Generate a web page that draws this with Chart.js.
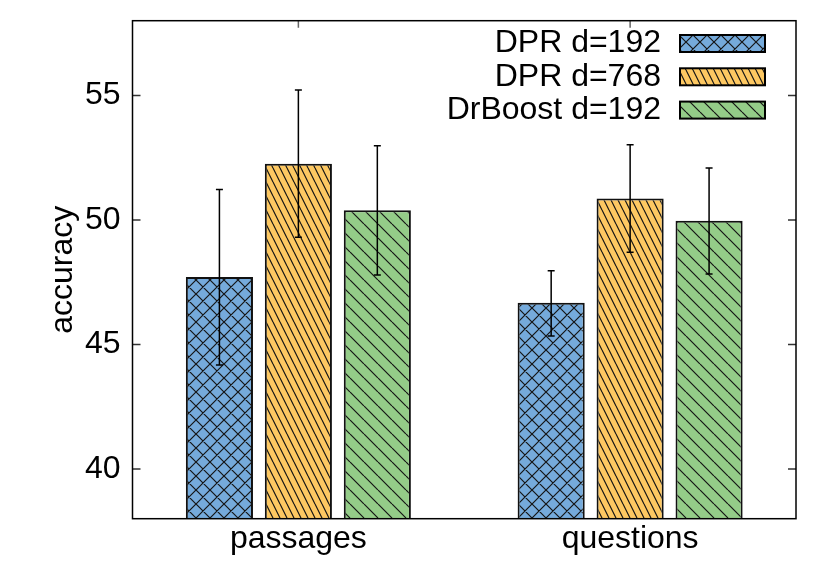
<!DOCTYPE html>
<html>
<head>
<meta charset="utf-8">
<script src="https://cdn.jsdelivr.net/npm/chart.js@4.4.1/dist/chart.umd.min.js"></script>
<style>
  html, body { margin: 0; padding: 0; background: #fff; }
  #wrap { width: 830px; height: 581px; }
</style>
</head>
<body>
<div id="wrap"><canvas id="c"></canvas></div>
<script>
const categories = ["passages", "questions"];
const seriesNames = ["DPR d=192", "DPR d=768", "DrBoost d=192"];
const dpr192 = [47.71, 46.67];
const dpr768 = [52.26, 50.86];
const drboost192 = [50.39, 49.97];
const dpr192Low = [44.17, 45.34];
const dpr192High = [51.22, 47.96];
const dpr768Low = [49.30, 48.70];
const dpr768High = [55.22, 53.02];
const drboost192Low = [47.79, 47.83];
const drboost192High = [52.98, 52.08];
const yTicks = [40, 45, 50, 55];

const FONT = "'Liberation Sans', Arial, sans-serif";
const FSIZE = 32;

// small tiles for the gnuplot-like fill patterns
function hatch(color, kind) {
  const w = kind === "steep" ? 7 : 14, h = 14;
  const c = document.createElement("canvas");
  c.width = w; c.height = h;
  const g = c.getContext("2d");
  g.fillStyle = color; g.fillRect(0, 0, w, h);
  g.strokeStyle = "#151515"; g.lineWidth = 1.2;
  g.beginPath();
  for (const dx of [-w, 0, w]) { g.moveTo(dx, 0); g.lineTo(dx + w, h); }
  if (kind === "cross") for (const dx of [-w, 0, w]) { g.moveTo(dx + w, 0); g.lineTo(dx, h); }
  g.stroke();
  return g.createPattern(c, "repeat");
}

const errorBars = {
  id: "errorBars",
  afterDatasetsDraw(chart) {
    const { ctx } = chart, y = chart.scales.y;
    ctx.save();
    ctx.strokeStyle = "#000"; ctx.lineWidth = 1.5;
    chart.data.datasets.forEach((ds, i) => {
      chart.getDatasetMeta(i).data.forEach((bar, j) => {
        const top = y.getPixelForValue(ds.high[j]), bot = y.getPixelForValue(ds.low[j]);
        ctx.beginPath();
        ctx.moveTo(bar.x, top); ctx.lineTo(bar.x, bot);
        ctx.moveTo(bar.x - 3.5, top); ctx.lineTo(bar.x + 3.5, top);
        ctx.moveTo(bar.x - 3.5, bot); ctx.lineTo(bar.x + 3.5, bot);
        ctx.stroke();
      });
    });
    ctx.restore();
  }
};

const frame = {
  id: "frame",
  beforeDatasetsDraw(chart) {
    const { ctx, chartArea: a } = chart, x = chart.scales.x;
    ctx.save();
    ctx.strokeStyle = "#666"; ctx.lineWidth = 1.5;
    categories.forEach((_, i) => {
      const px = x.getPixelForValue(i);
      ctx.beginPath();
      ctx.moveTo(px, a.top); ctx.lineTo(px, a.top + 7);
      ctx.moveTo(px, a.bottom); ctx.lineTo(px, a.bottom - 7);
      ctx.stroke();
    });
    ctx.restore();
  },
  afterDatasetsDraw(chart) {
    const { ctx, chartArea: a } = chart, y = chart.scales.y;
    ctx.save();
    ctx.strokeStyle = "#333"; ctx.lineWidth = 1.5;
    yTicks.forEach(v => {
      const py = y.getPixelForValue(v);
      ctx.beginPath();
      ctx.moveTo(a.left, py); ctx.lineTo(a.left + 8, py);
      ctx.moveTo(a.right, py); ctx.lineTo(a.right - 8, py);
      ctx.stroke();
    });
    ctx.strokeStyle = "#000"; ctx.lineWidth = 1.5;
    ctx.strokeRect(a.left, a.top, a.right - a.left, a.bottom - a.top);
    ctx.restore();
  }
};

const hatchLegend = {
  id: "hatchLegend",
  afterDraw(chart) {
    const ctx = chart.ctx;
    ctx.save();
    ctx.font = FSIZE + "px " + FONT;
    ctx.textAlign = "right"; ctx.textBaseline = "middle";
    chart.data.datasets.forEach((ds, i) => {
      const cy = 43.5 + i * 33.3;
      ctx.fillStyle = "#000";
      ctx.fillText(ds.label, 661, cy);
      ctx.fillStyle = ds.backgroundColor;
      ctx.fillRect(680, cy - 8.5, 85, 17);
      ctx.strokeStyle = "#000"; ctx.lineWidth = 2;
      ctx.strokeRect(680, cy - 8.5, 85, 17);
    });
    ctx.restore();
  }
};

function noPad(s) {
  s.paddingTop = 0; s.paddingBottom = 0; s.paddingLeft = 0; s.paddingRight = 0;
}

const colors = ["#75aadb", "#fdc862", "#94cc88"];
const kinds = ["cross", "steep", "diag"];
const values = [dpr192, dpr768, drboost192];
const lows = [dpr192Low, dpr768Low, drboost192Low];
const highs = [dpr192High, dpr768High, drboost192High];

new Chart(document.getElementById("c"), {
  type: "bar",
  data: {
    labels: categories,
    datasets: seriesNames.map((name, i) => ({
      label: name,
      data: values[i],
      low: lows[i],
      high: highs[i],
      backgroundColor: hatch(colors[i], kinds[i]),
      borderColor: "#111",
      borderWidth: 2,
      categoryPercentage: 0.714,
      barPercentage: 0.85
    }))
  },
  options: {
    responsive: true,
    maintainAspectRatio: false,
    animation: false,
    layout: { padding: { left: 0, top: 20.7, right: 34, bottom: 0 } },
    plugins: { legend: { display: false }, tooltip: { enabled: false } },
    scales: {
      x: {
        grid: { display: false, drawTicks: false },
        border: { display: false },
        ticks: { color: "#000", font: { family: FONT, size: FSIZE }, padding: 1 },
        afterFit(s) { s.height = 62.3; noPad(s); }
      },
      y: {
        min: 38, max: 58,
        grid: { display: false, drawTicks: false },
        border: { display: false },
        afterBuildTicks(s) { s.ticks = yTicks.map(v => ({ value: v })); },
        ticks: { color: "#000", font: { family: FONT, size: FSIZE }, padding: 12 },
        title: { display: true, text: "accuracy", color: "#000", font: { family: FONT, size: FSIZE }, padding: { top: 44, bottom: 0 } },
        afterFit(s) { s.width = 132.5; noPad(s); }
      }
    }
  },
  plugins: [frame, errorBars, hatchLegend]
});
</script>
</body>
</html>
